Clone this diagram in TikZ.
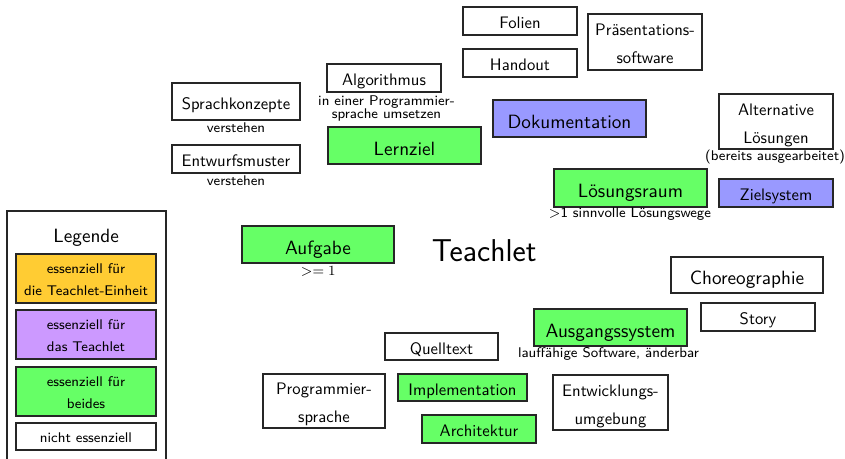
\documentclass[tikz,border=0pt]{standalone}
\definecolor{ggreen}{HTML}{66FF66}
\definecolor{gblue}{HTML}{9999FF}
\definecolor{gviolet}{HTML}{CC99FF}
\definecolor{gorange}{HTML}{FFCC33}
\newcommand{\twolines}[2]{\begin{tabular}[t]{@{}c@{}}#1\\#2\end{tabular}}
\tikzset{
  corners/.style n args={4}{minimum width={(#3-#1)*0.57pt}, minimum height={(#4-#2)*0.57pt}, at={({(#1+#3)/2},{(#2+#4)/2})}},
  boxbase/.style={draw=black!85, line width=0.6pt, inner sep=0pt, anchor=center},
  bigbox/.style={boxbase, font=\sffamily\fontsize{10.95}{13.6}\selectfont, text height=12pt, text depth=1.06pt},
  smallbox/.style={boxbase, font=\sffamily\fontsize{9.5}{16}\selectfont, text height=10pt, text depth=1.1pt},
  twobox/.style={boxbase, font=\sffamily\fontsize{9.5}{16}\selectfont, text height=10pt, text depth=17.2pt},
  legtwo/.style={boxbase, font=\sffamily\fontsize{8}{12.5}\selectfont, text height=8pt, text depth=13.7pt},
  legone/.style={boxbase, font=\sffamily\fontsize{8}{12.5}\selectfont, text height=8pt, text depth=0.7pt},
  sublabel/.style={inner sep=0pt, anchor=base, font=\sffamily\fontsize{8}{7.24}\selectfont},
  titletext/.style={inner sep=0pt, anchor=base, font=\sffamily\fontsize{10.95}{13.6}\selectfont},
}
\begin{document}
\begin{tikzpicture}[x=0.57pt, y=-0.57pt]
\useasboundingbox (0,0) rectangle (845,458);
% legend
\node[boxbase, corners={7}{211}{166}{470}] (legend) {};
\node[titletext] (legtitle) at (86.2,242.7) {Legende};
\node[legtwo, fill=gorange, corners={16}{254}{156}{303}] (leg1) {\twolines{essenziell für}{die Teachlet-Einheit}};
\node[legtwo, fill=gviolet, corners={16}{310}{156}{359}] (leg2) {\twolines{essenziell für}{das Teachlet}};
\node[legtwo, fill=ggreen, corners={16}{367}{156}{416}] (leg3) {\twolines{essenziell für}{beides}};
\node[legone, corners={16}{423}{156}{450}] (leg4) {nicht essenziell};
% big boxes
\node[bigbox, fill=ggreen, corners={328}{127}{481}{164}] (lernziel) {Lernziel};
\node[bigbox, fill=gblue, corners={493}{100}{646}{137}] (doku) {Dokumentation};
\node[bigbox, fill=ggreen, corners={554}{169}{707}{207}] (loesraum) {Lösungsraum};
\node[bigbox, fill=ggreen, corners={242}{226}{394}{263}] (aufgabe) {Aufgabe};
\node[bigbox, fill=ggreen, corners={534}{309}{687}{346}] (ausgang) {Ausgangssystem};
\node[bigbox, corners={671}{257}{823}{293}] (choreo) {Choreographie};
% small boxes
\node[smallbox, corners={172}{83}{300}{120}] (sprach) {Sprachkonzepte};
\node[smallbox, corners={172}{145}{300}{173}] (entwurf) {Entwurfsmuster};
\node[smallbox, corners={327}{64}{441}{92}] (algo) {Algorithmus};
\node[smallbox, corners={463}{7}{577}{35}] (folien) {Folien};
\node[smallbox, corners={463}{49}{577}{77}] (handout) {Handout};
\node[smallbox, fill=gblue, corners={719}{179}{833}{207}] (ziel) {Zielsystem};
\node[smallbox, corners={701}{303}{815}{331}] (story) {Story};
\node[smallbox, corners={385}{333}{498}{360}] (quell) {Quelltext};
\node[smallbox, fill=ggreen, corners={398}{374}{527}{401}] (impl) {Implementation};
\node[smallbox, fill=ggreen, corners={422}{415}{536}{443}] (archi) {Architektur};
% two-line boxes
\node[twobox, corners={588}{14}{702}{70}] (praes) {\twolines{Präsentations-}{software}};
\node[twobox, corners={719}{94}{833}{149}] (altern) {\twolines{Alternative}{Lösungen}};
\node[twobox, corners={263}{374}{385}{428}] (progsp) {\twolines{Programmier-}{sprache}};
\node[twobox, corners={553}{375}{668}{430}] (entwum) {\twolines{Entwicklungs-}{umgebung}};
% sublabels
\node[sublabel] (sprachsub) at (236,132.7) {verstehen};
\node[sublabel] (entwurfsub) at (236,185) {verstehen};
\node[sublabel] (algosub) at (386.5,105) {\twolines{in einer Programmier-}{sprache umsetzen}};
\node[sublabel] (alternsub) at (775,160) {(bereits ausgearbeitet)};
\node[sublabel] (loessub) at (630,217.5) {$>$1 sinnvolle Lösungswege};
\node[sublabel] (aufgabesub) at (318.3,275.7) {$>= 1$};
\node[sublabel] (ausgangsub) at (608.5,357.3) {lauffähige Software, änderbar};
% title
\node[inner sep=0pt, anchor=base, font=\sffamily\fontsize{18}{22}\selectfont] (teachlet) at (484.2,261.7) {Teachlet};
\end{tikzpicture}
\end{document}
